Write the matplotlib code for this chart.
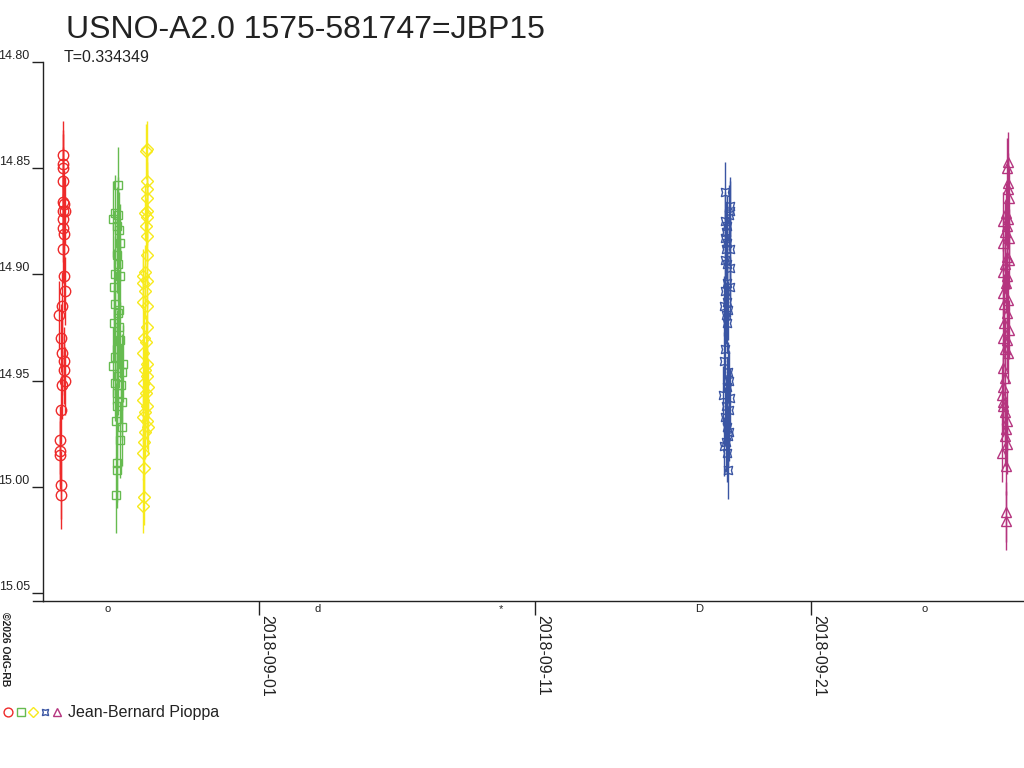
import matplotlib
matplotlib.use("Agg")
import matplotlib.pyplot as plt
import matplotlib.dates as mdates
from matplotlib.lines import Line2D
from matplotlib.legend_handler import HandlerTuple
from datetime import datetime, timedelta

plt.rcParams["font.family"] = ["Liberation Sans", "DejaVu Sans"]

# ---- data: magnitudes per night, hours relative to the night's base time ----
red_base = datetime(2018, 8, 24, 20, 40)
red_hours = [0.6, 1.2, 1.2, 1.2, 0.6, 1.7, 1.2, 2.3, 0.6, 1.2, 1.7, 1.2, 1.7, 2.3,
             -0.3, -2.3, -1.2, -0.3, 1.7, 1.7, 2.3, -0.3, -0.9, -1.5, -1.7, -1.5, -1.2, -0.9]
red_mag = [14.844, 14.848, 14.850, 14.856, 14.866, 14.867, 14.870, 14.870, 14.874, 14.878,
           14.881, 14.888, 14.901, 14.908, 14.915, 14.919, 14.930, 14.937, 14.941, 14.945,
           14.950, 14.952, 14.964, 14.978, 14.983, 14.985, 14.999, 15.004]
red_err = 0.016

green_base = datetime(2018, 8, 26, 21, 23)
green_hours = [0.3, -2.6, 0.3, -4.1, -0.6, 1.2, 1.7, -0.6, 0.3, -2.6, 1.7, -3.5, -2.6, 1.2,
               0.3, -3.5, 1.2, 1.7, -0.6, -2.6, 4.6, -4.1, 3.2, 0.3, -2.6, 2.3, -0.6, 3.2,
               -0.6, -1.7, 3.2, 1.7, -1.2, -0.6, -1.7]
green_mag = [14.858, 14.871, 14.872, 14.874, 14.877, 14.879, 14.885, 14.891, 14.895, 14.900,
             14.901, 14.906, 14.914, 14.917, 14.918, 14.923, 14.925, 14.931, 14.935, 14.939,
             14.942, 14.943, 14.946, 14.948, 14.951, 14.952, 14.956, 14.960, 14.962, 14.969,
             14.972, 14.978, 14.989, 14.992, 15.004]
green_err = 0.018

yellow_base = datetime(2018, 8, 27, 22, 37)
yellow_hours = [0.3, -0.9, -0.3, -0.3, 0.3, -0.3, -1.7, 0.3, -0.9, -0.3, 0.3, -1.7, -3.2,
                0.3, -3.8, -1.7, -3.2, 0.3, -0.3, -2.6, -0.9, -3.8, 0.3, -1.7, -0.3, -2.6,
                1.2, -0.9, -3.2, 0.3, -1.7, -3.8, -0.3, 1.2, -1.7, -2.6, -3.2, -2.6, -2.6, -3.2]
yellow_mag = [14.841, 14.842, 14.856, 14.860, 14.864, 14.870, 14.871, 14.873, 14.877, 14.882,
              14.891, 14.899, 14.901, 14.903, 14.904, 14.908, 14.913, 14.915, 14.925, 14.930,
              14.932, 14.937, 14.942, 14.945, 14.948, 14.951, 14.953, 14.956, 14.959, 14.962,
              14.965, 14.967, 14.969, 14.972, 14.974, 14.979, 14.984, 14.991, 15.005, 15.009]
yellow_err = 0.013

blue_base = datetime(2018, 9, 17, 22, 58)
blue_hours = [-1.7, 2.6, 2.6, 2.0, -1.7, -0.3, -0.9, -1.7, 0.3, -0.9, 2.6, -1.7, -0.3, 2.6,
              -0.3, 2.6, -1.7, 0.3, -2.6, 1.2, -0.9, -0.3, -1.7, -2.6, 1.2, 2.0, -0.3, -3.2,
              2.6, -0.9, 2.0, -1.7, -0.3, 2.0, 1.2, -0.9, -2.6, -0.3, 1.2]
blue_mag = [14.861, 14.868, 14.870, 14.872, 14.875, 14.877, 14.880, 14.883, 14.885, 14.888,
            14.888, 14.893, 14.895, 14.897, 14.904, 14.906, 14.908, 14.913, 14.915, 14.917,
            14.919, 14.923, 14.935, 14.941, 14.946, 14.950, 14.953, 14.957, 14.958, 14.962,
            14.964, 14.967, 14.972, 14.974, 14.976, 14.979, 14.981, 14.984, 14.992]
blue_err = 0.014

magenta_base = datetime(2018, 9, 28, 1, 34)
magenta_hours = [2.0, 1.2, 2.0, 2.0, 2.9, 0.0, 2.0, -2.3, 1.2, -0.9, 2.9, -2.3, 0.6, 2.9,
                 -0.9, -2.3, 1.2, 0.0, -2.9, 2.0, -1.7, 0.6, -1.7, 2.9, -2.3, 1.2, -0.9,
                 2.0, -2.3, -0.9, -2.9, -3.8, -2.3, -2.9, -0.9, 0.6, 0.0, -0.9, 0.6, -3.8,
                 0.0, 0.0, 0.0]
magenta_mag = [14.847, 14.850, 14.857, 14.860, 14.864, 14.871, 14.874, 14.875, 14.877, 14.880,
               14.883, 14.885, 14.892, 14.893, 14.895, 14.899, 14.901, 14.904, 14.909, 14.912,
               14.914, 14.918, 14.923, 14.926, 14.930, 14.931, 14.935, 14.937, 14.944, 14.949,
               14.953, 14.957, 14.960, 14.962, 14.965, 14.969, 14.973, 14.976, 14.980, 14.984,
               14.990, 15.012, 15.016]
magenta_err = 0.014

# moon phases shown under the axis
moon_dates = [datetime(2018, 8, 26, 12), datetime(2018, 9, 3, 3), datetime(2018, 9, 9, 18),
              datetime(2018, 9, 16, 23), datetime(2018, 9, 25, 3)]
moon_symbols = ["o", "d", "*", "D", "o"]

title = "USNO-A2.0 1575-581747=JBP15"
subtitle = "T=0.334349"
observer = "Jean-Bernard Pioppa"

series = [
    (red_base, red_hours, red_mag, red_err, "#ee2a2a", "o", 7.5),
    (green_base, green_hours, green_mag, green_err, "#66bb50", "s", 6.0),
    (yellow_base, yellow_hours, yellow_mag, yellow_err, "#f7ea1c", "D", 6.5),
    (blue_base, blue_hours, blue_mag, blue_err, "#3a55a3", (4, 1, 45), 8.5),
    (magenta_base, magenta_hours, magenta_mag, magenta_err, "#b5357f", "^", 7.5),
]

fig = plt.figure(figsize=(10.24, 7.68), dpi=100)
ax = fig.add_axes([43 / 1024, 167 / 768, 981 / 1024, 539 / 768])

proxies = []
for base, hrs, mags, err, col, mk, ms in series:
    t = [base + timedelta(hours=h) for h in hrs]
    ax.errorbar(t, mags, yerr=err, fmt="none", ecolor=col, elinewidth=1.0, capsize=0)
    ax.plot(t, mags, ls="none", marker=mk, mfc="none", mec=col, mew=1.0, ms=ms)
    proxies.append(Line2D([], [], ls="none", marker=mk, mfc="none", mec=col, mew=1.0,
                          ms=min(ms, 7.5) * 0.85))

ax.set_ylim(15.0538, 14.80)
ax.set_yticks([14.80, 14.85, 14.90, 14.95, 15.00, 15.05])
ax.yaxis.set_major_formatter(matplotlib.ticker.FormatStrFormatter("%.2f"))
ax.set_xlim(datetime(2018, 8, 24, 4, 10), datetime(2018, 9, 28, 17, 12))
ax.xaxis.set_major_locator(mdates.DayLocator(bymonthday=[1, 11, 21]))
ax.xaxis.set_major_formatter(mdates.DateFormatter("%Y-%m-%d"))

for s in ["top", "right"]:
    ax.spines[s].set_visible(False)
for s in ["left", "bottom"]:
    ax.spines[s].set_color("#222222")
    ax.spines[s].set_linewidth(1.0)
# bottom axis line runs a little past the left axis
ax.plot([-10 / 981, 0], [0, 0], transform=ax.transAxes, clip_on=False,
        color="#222222", lw=1.0)

ax.tick_params(axis="y", direction="out", length=8, width=1, pad=1.5, labelsize=9,
               colors="#222222")
ax.tick_params(axis="x", direction="out", length=10, width=1, pad=0, labelsize=11.5,
               colors="#222222")
for lbl in ax.get_yticklabels():
    lbl.set_verticalalignment("bottom")
for lbl in ax.get_xticklabels():
    lbl.set_rotation(-90)
    lbl.set_horizontalalignment("left")
    lbl.set_verticalalignment("top")

for d, sym in zip(moon_dates, moon_symbols):
    ax.annotate(sym, xy=(mdates.date2num(d), 0), xycoords=("data", "axes fraction"),
                xytext=(0, -6), textcoords="offset points", ha="center", va="center",
                fontsize=8, color="#222222", annotation_clip=False)

fig.text(66 / 1024, 1 - 30 / 768, title, fontsize=23, color="#222222", va="center")
fig.text(64 / 1024, 1 - 57 / 768, subtitle, fontsize=11.5, color="#222222", va="center")
fig.text(5 / 1024, 1 - 612 / 768, "\u00a92026 OdG-RB", fontsize=7.5, fontweight="bold",
         rotation=-90, ha="center", va="top", color="#222222")

fig.legend(handles=[tuple(proxies)], labels=[observer],
           handler_map={tuple: HandlerTuple(ndivide=None, pad=0.1)},
           loc="center left", bbox_to_anchor=(0.0, 1 - 713 / 768), frameon=False,
           handlelength=3.7, handletextpad=0.35, borderpad=0, borderaxespad=0.2,
           fontsize=11.5, labelcolor="#222222")

fig.savefig("out.png", dpi=100)
